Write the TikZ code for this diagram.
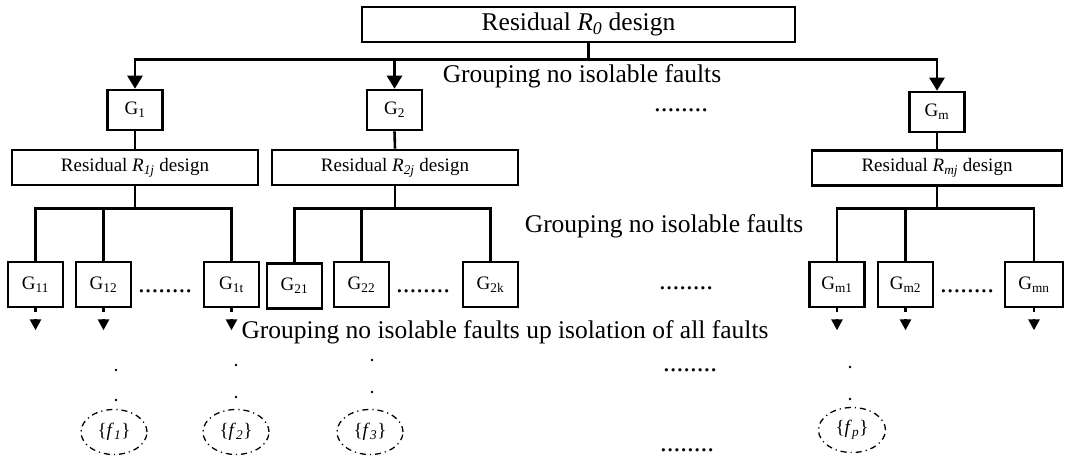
\documentclass[tikz,border=0pt]{standalone}
\usepackage{fontspec}
\setmainfont{Liberation Serif}
\usetikzlibrary{positioning, arrows.meta, shapes.geometric, calc}
\definecolor{LineColor}{RGB}{0,0,0}
\newcommand{\bigfont}{\fontsize{25.5}{30}\selectfont}
\newcommand{\smallfont}{\fontsize{19}{22}\selectfont}
\newcommand{\gsub}[1]{G\textsubscript{#1}}
\newcommand{\fset}[1]{\{\textit{f}\textsubscript{\textit{#1}}\}}
\newcommand{\rsub}[1]{\textit{R}\textsubscript{\textit{#1}}}
\tikzstyle{branch} = [line width=2.6pt, LineColor, -{Triangle[width=15pt,length=13pt]}]
\tikzstyle{link} = [line width=2.6pt, LineColor]
\tikzstyle{drop} = [line width=2.6pt, LineColor, dash pattern=on 4pt off 7pt, -{Triangle[width=11pt,length=11pt]}]
\tikzset{
  design/.style={rectangle, draw=LineColor, line width=2.6pt, inner sep=0pt, minimum height=35pt, minimum width=246pt, font=\smallfont},
  group/.style={rectangle, draw=LineColor, line width=2.6pt, inner sep=0pt, minimum width=55pt, minimum height=45pt, font=\smallfont},
  fault/.style={ellipse, draw=LineColor, line width=1.3pt, dash pattern=on 6pt off 4pt on 1.2pt off 4pt, minimum width=66pt, minimum height=45pt, inner sep=0pt, font=\smallfont},
  note/.style={font=\bigfont, inner sep=0pt},
  dot/.style={font=\fontsize{27}{30}\selectfont, inner sep=0pt},
  point/.style={circle, fill=LineColor, inner sep=0pt, minimum size=2.8pt}
}

\begin{document}
\begin{tikzpicture}[x=1pt, y=-1pt]
  \useasboundingbox (0,0) rectangle (1071,457);

  % Top residual
  \node[design, font=\bigfont, minimum width=433pt] (top) at (578.5,24.5) {Residual \rsub{0} design};
  \node[note] (note1) at (582,76) {Grouping no isolable faults};
  \node[dot] (dots1) at (681,110) {........};

  % First level groups
  \node[group, minimum height=40pt] (g1) at (135,110) {\gsub{1}};
  \node[group, minimum height=40pt] (g2) at (394.5,110) {\gsub{2}};
  \node[group, minimum height=40pt] (gm) at (937,112) {\gsub{m}};
  \draw[branch] ([xshift=10pt]top.south) -- ++(0,16) -| (g1.north);
  \draw[branch] ([xshift=10pt]top.south) -- ++(0,16) -| (g2.north);
  \draw[branch] ([xshift=10pt]top.south) -- ++(0,16) -| (gm.north);

  % Residual designs
  \node[design] (r1) at (135,167.5) {Residual \rsub{1j} design};
  \node[design] (r2) at (395,167.5) {Residual \rsub{2j} design};
  \node[design, minimum width=250pt] (rm) at (937,168) {Residual \rsub{mj} design};
  \draw[link] (g1.south) -- (r1.north);
  \draw[link] (g2.south) -- (r2.north);
  \draw[link] (gm.south) -- (rm.north);
  \node[note] (note2) at (664,226) {Grouping no isolable faults};

  % Second level groups
  \node[group] (g11) at (35.5,284.5) {\gsub{11}};
  \node[group] (g12) at (103.5,284.5) {\gsub{12}};
  \node[group] (g1t) at (231.5,284.5) {\gsub{1t}};
  \node[group] (g21) at (294.5,286) {\gsub{21}};
  \node[group] (g22) at (361.5,284.5) {\gsub{22}};
  \node[group] (g2k) at (490.5,284.5) {\gsub{2k}};
  \node[group] (gm1) at (837,284.5) {\gsub{m1}};
  \node[group] (gm2) at (905.5,284.5) {\gsub{m2}};
  \node[group, minimum width=58pt] (gmn) at (1034,284.5) {\gsub{mn}};
  \node[dot] (dots2) at (165,291) {........};
  \node[dot] (dots3) at (423,291) {........};
  \node[dot] (dots4) at (686,288) {........};
  \node[dot] (dots5) at (967,291) {........};
  \foreach \parent/\child in {r1/g11, r1/g12, r1/g1t, r2/g21, r2/g22, r2/g2k, rm/gm1, rm/gm2, rm/gmn}
    \draw[link] (\parent.south) -- ++(0,22) -| (\child.north);

  % Further grouping
  \foreach \child in {g11, g12, g1t, gm1, gm2, gmn}
    \draw[drop] (\child.south) -- ++(0,22);
  \node[note] (note3) at (505,332) {Grouping no isolable faults up isolation of all faults};

  % Isolated faults
  \node[point] (d11) at (116,370) {};
  \node[point] (d12) at (116,400) {};
  \node[point] (d21) at (236,365) {};
  \node[point] (d22) at (236,397) {};
  \node[point] (d31) at (372,360) {};
  \node[point] (d32) at (372,392) {};
  \node[point] (dp1) at (850,367) {};
  \node[point] (dp2) at (850,399) {};
  \node[dot] (dots6) at (690,370) {........};
  \node[dot] (dots7) at (687,450) {........};
  \node[fault] (f1) at (114,432) {\fset{1}};
  \node[fault] (f2) at (236,432) {\fset{2}};
  \node[fault] (f3) at (370,432) {\fset{3}};
  \node[fault, minimum width=67pt] (fp) at (852,430) {\fset{p}};
\end{tikzpicture}
\end{document}
